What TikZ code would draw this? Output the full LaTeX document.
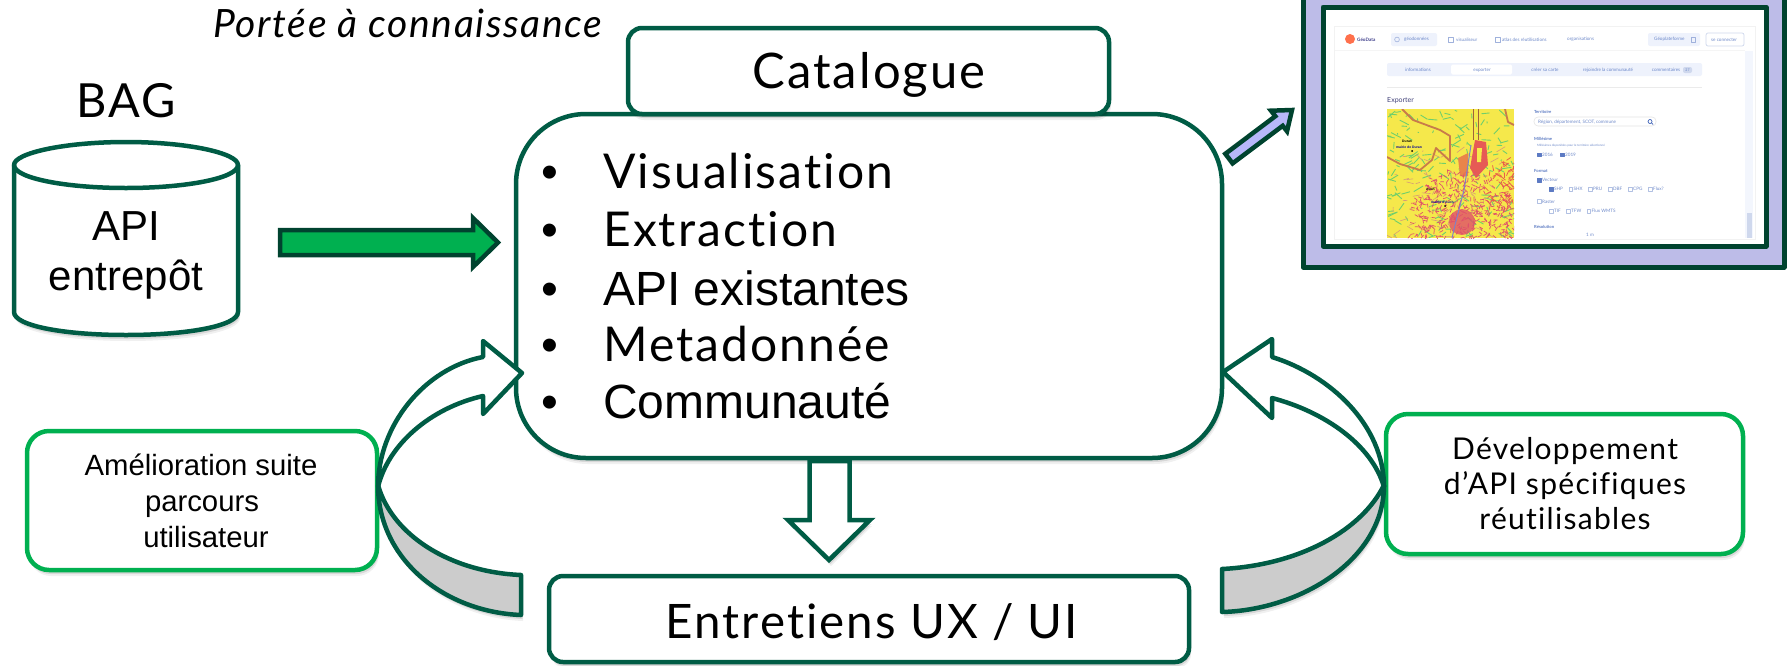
\documentclass[tikz,border=0pt]{standalone}
\usepackage{fontspec}
\setmainfont{Liberation Sans}
\newfontfamily\uifont[LetterSpace=4.3,Ligatures=NoCommon]{Lato}
\newfontfamily\shotfont{Lato}
\usetikzlibrary{shadows,calc}
\definecolor{mainstroke}{HTML}{005C45}
\definecolor{darkstroke}{HTML}{00432F}
\definecolor{brightgreen}{HTML}{00B050}
\definecolor{lilac}{HTML}{BDBCE8}
\definecolor{brightlilac}{HTML}{B8B8FA}
\definecolor{bandgrey}{HTML}{CCCCCC}
\definecolor{paleblue}{HTML}{EEF2FC}
\definecolor{shotblue}{HTML}{3F63B8}
\definecolor{mapyellow}{HTML}{F5E84B}
\definecolor{mapgreen}{HTML}{6FCF6B}
\definecolor{mapred}{HTML}{E0506A}
\definecolor{mapbrown}{HTML}{C97B4A}
\tikzset{
  softshadow/.style={
    general shadow={shadow xshift=1pt,shadow yshift=-2pt,fill=black,opacity=.12},
    general shadow={shadow xshift=1.5pt,shadow yshift=-4pt,fill=black,opacity=.10},
    general shadow={shadow xshift=2pt,shadow yshift=-6pt,fill=black,opacity=.06}},
  roundbox/.style={draw=mainstroke,line width=4.5pt,fill=white,rounded corners=#1,inner sep=0pt,softshadow},
  callout/.style={draw=brightgreen,line width=4.5pt,fill=white,rounded corners=22pt,inner sep=0pt,softshadow},
  txt/.style={anchor=base,inner sep=0pt},
  stxt/.style={font=\shotfont\fontsize{4.6pt}{5pt}\selectfont,text=shotblue,inner sep=0pt,anchor=west,opacity=.75},
  sbold/.style={font=\shotfont\bfseries\fontsize{4.2pt}{5pt}\selectfont,text=shotblue,inner sep=0pt,anchor=west,opacity=.85},
  sbox/.style={draw=shotblue!40,line width=.6pt,fill=white,minimum width=3.6pt,minimum height=3.6pt,inner sep=0pt,anchor=west},
  schk/.style={fill=shotblue!85,draw=shotblue!85,minimum width=3.6pt,minimum height=3.6pt,inner sep=0pt,anchor=west},
  mapname/.style={font=\bfseries\fontsize{3.4pt}{4pt}\selectfont,inner sep=0pt,anchor=west},
}
\begin{document}
\begin{tikzpicture}[x=1pt,y=-1pt,line join=round]
\useasboundingbox (0,0) rectangle (1787,665);
% Portee
\node[anchor=base west,inner sep=0pt,font=\uifont\itshape\fontsize{39pt}{40pt}\selectfont] (portee) at (213,37) {Portée à connaissance};
\node[txt,font=\uifont\fontsize{47pt}{50pt}\selectfont] (bag) at (126,117) {BAG};
% cylinder
\path[draw=mainstroke,line width=4.5pt,fill=white,softshadow] (14,165) -- (14,312) .. controls (14,326) and (65,335) .. (126,335) .. controls (187,335) and (238,326) .. (238,312) -- (238,165) .. controls (238,153) and (187,142) .. (126,142) .. controls (65,142) and (14,153) .. (14,165) -- cycle;
\draw[mainstroke,line width=4.5pt] (14,165) .. controls (14,178) and (65,188) .. (126,188) .. controls (187,188) and (238,178) .. (238,165);
\node[txt,font=\fontsize{42pt}{48pt}\selectfont] (api) at (126,240) {API};
\node[txt,font=\fontsize{42pt}{48pt}\selectfont] (entrepot) at (126,290) {entrepôt};
% green arrow
\path[draw=darkstroke,line width=4.5pt,fill=brightgreen,line join=miter] (280,230) -- (473,230) -- (473,218) -- (498,242.5) -- (473,267) -- (473,255) -- (280,255) -- cycle;
% main box
\node[roundbox=70pt,minimum width=706pt,minimum height=344pt] (main) at (869,286) {};
\foreach \yy/\txtval/\fnt in {188/Visualisation/\uifont,246/Extraction/\uifont,305/API existantes/\rmfamily,361/Metadonnée/\uifont,418/Communauté/\rmfamily}{
  \node[txt,font=\rmfamily\fontsize{48pt}{50pt}\selectfont] at (550,\yy) {•};
  \node[anchor=base west,inner sep=0pt,font=\fnt\fontsize{48pt}{50pt}\selectfont] at (603,\yy) {\txtval};
}
% catalogue
\node[roundbox=14pt,minimum width=481pt,minimum height=86pt] (catalogue) at (868.5,71) {};
\node[txt,font=\uifont\fontsize{49pt}{50pt}\selectfont] (cataloguetext) at (869,88) {Catalogue};
% down arrow
\path[draw=mainstroke,line width=4.5pt,fill=white,line join=miter,softshadow] (809.5,461) -- (849.5,461) -- (849.5,520) -- (870,520) -- (829,560) -- (788,520) -- (809.5,520) -- cycle;
% bottom box
\node[roundbox=14pt,minimum width=640pt,minimum height=86pt] (ux) at (869,619) {};
\node[txt,font=\uifont\fontsize{47.5pt}{50pt}\selectfont] (uxtext) at (872,638) {Entretiens UX / UI};
% callouts
\node[callout,minimum width=350pt,minimum height=139pt] (left) at (202,500.5) {};
\node[txt,font=\fontsize{29.3pt}{30pt}\selectfont] at (201,475) {Amélioration suite};
\node[txt,font=\fontsize{29.3pt}{30pt}\selectfont] at (202,511) {parcours};
\node[txt,font=\fontsize{29.3pt}{30pt}\selectfont] at (206,547) {utilisateur};
\node[callout,minimum width=357pt,minimum height=140pt] (right) at (1564.5,484) {};
\node[txt,font=\uifont\fontsize{30pt}{30pt}\selectfont] at (1565,459) {Développement};
\node[txt,font=\uifont\fontsize{30pt}{30pt}\selectfont] at (1565,494) {d’API spécifiques};
\node[txt,font=\uifont\fontsize{30pt}{30pt}\selectfont] at (1565,529) {réutilisables};
% curved arrow left
\path[draw=mainstroke,line width=4.5pt,fill=bandgrey,softshadow] (378,485) .. controls (378,560) and (445,612) .. (521,615) -- (521,575) .. controls (450,572) and (392,535) .. (378,485) -- cycle;
\path[draw=mainstroke,line width=4.5pt,fill=white] (378,487) .. controls (378,425) and (425,368) .. (483,357) -- (483,341) -- (522,373) -- (483,414) -- (483,396) .. controls (430,408) and (388,445) .. (378,487) -- cycle;
% curved arrow right
\path[draw=mainstroke,line width=4.5pt,fill=bandgrey,softshadow] (1384,485) .. controls (1384,560) and (1300,610) .. (1222,612) -- (1222,569) .. controls (1300,565) and (1362,530) .. (1384,485) -- cycle;
\path[draw=mainstroke,line width=4.5pt,fill=white] (1384,487) .. controls (1384,425) and (1330,375) .. (1272,357) -- (1272,339) -- (1223,372) -- (1272,418) -- (1272,398) .. controls (1325,412) and (1372,445) .. (1384,487) -- cycle;
% purple arrow
\path[draw=darkstroke,line width=4.5pt,fill=brightlilac,line join=miter] (1225.3,153.8) -- (1275.3,116.2) -- (1271,110.7) -- (1292,110) -- (1287,131.3) -- (1282.7,125.8) -- (1232.6,163.4) -- cycle;
% screenshot frame
\path[draw=darkstroke,line width=5pt,fill=lilac] (1303,-10) rectangle (1784,267);
\path[draw=darkstroke,line width=5pt,fill=white] (1323,7) rectangle (1766,246);
\begin{scope}
\clip (1326,9.5) rectangle (1763.5,243.5);
\fill[black!5] (1334,26) rectangle (1756,240);
\fill[white] (1335,27) rectangle (1755,238.5);
\fill[black!4] (1335,50) rectangle (1745,51);
\fill[paleblue!70!white] (1745,51) rectangle (1753,238);
\fill[shotblue!25] (1747,213) rectangle (1752,238);
\fill[red!60!orange!70] (1350,39) circle (5);
\node[stxt,font=\shotfont\bfseries\fontsize{4.6pt}{5pt}\selectfont,text=black!60!blue] at (1357,39.5) {GéoData};
\fill[paleblue,rounded corners=2pt] (1391,33) rectangle (1437,46);
\node[stxt] at (1404,39.5) {géodonnées};
\node[stxt] at (1456,39.5) {visualiseur};
\node[stxt] at (1502,39.5) {atlas des réutilisations};
\node[stxt] at (1567,39.5) {organisations};
\draw[shotblue!50,line width=.6pt] (1397,39.5) circle (2.4);
\draw[shotblue!50,line width=.6pt] (1448,37) rectangle (1453,42);
\draw[shotblue!50,line width=.6pt] (1495,37) rectangle (1500,42);
\fill[paleblue,rounded corners=2pt] (1648,33) rectangle (1700,46);
\node[stxt] at (1654,39.5) {Géoplateforme};
\draw[shotblue!50,line width=.6pt] (1691,37) rectangle (1695,42);
\draw[shotblue!25,line width=.7pt,rounded corners=2pt] (1706,33) rectangle (1744,46);
\node[stxt] at (1711,39.5) {se connecter};
\fill[paleblue,rounded corners=2pt] (1387,63) rectangle (1702,76);
\fill[white,rounded corners=1.5pt] (1451,64.5) rectangle (1512,74.5);
\node[stxt,anchor=center] at (1418,70) {informations};
\node[stxt,anchor=center] at (1482,70) {exporter};
\node[stxt,anchor=center] at (1545,70) {créer sa carte};
\node[stxt,anchor=center] at (1608,70) {rejoindre la communauté};
\node[stxt,anchor=center] at (1666,70) {commentaires};
\fill[shotblue!25,rounded corners=2pt] (1683,67) rectangle (1692,73);
\node[stxt,anchor=center,font=\shotfont\fontsize{3.5pt}{4pt}\selectfont] at (1687.5,70) {27};
\fill[black!8] (1387,87) rectangle (1702,87.6);
\node[stxt,text=black!70!blue,font=\shotfont\fontsize{7pt}{8pt}\selectfont] at (1387,100.5) {Exporter};
% form
\node[sbold] at (1534,112) {Territoire};
\draw[black!10,line width=.6pt,rounded corners=4pt] (1534,117) rectangle (1656,126);
\node[stxt] at (1538,122) {Région, département, SCOT, commune};
\draw[shotblue,line width=.7pt] (1650,121.5) circle (2) (1651.5,123) -- (1653,124.5);
\node[sbold] at (1534,139) {Millésime};
\node[stxt,font=\shotfont\fontsize{3pt}{4pt}\selectfont] at (1537,146) {Millésimes disponibles pour le territoire sélectionné};
\node[schk] at (1537,154.5) {}; \node[stxt] at (1542,154.5) {2016};
\node[schk] at (1560,154.5) {}; \node[stxt] at (1565,154.5) {2019};
\node[sbold] at (1534,171) {Format};
\node[schk] at (1537,180) {}; \node[stxt] at (1542,180) {Vecteur};
\node[schk] at (1549,189) {}; \node[stxt] at (1554,189) {SHP};
\foreach \xx/\tt in {1568.5/SHX,1588/PRU,1608/DBF,1628/CPG,1648/Flux?}{\node[sbox] at (\xx,189) {}; \node[stxt] at (\xx+5,189) {\tt};}
\node[sbox] at (1537,201.5) {}; \node[stxt] at (1542,201.5) {Raster};
\foreach \xx/\tt in {1549/TIF,1566/TFW,1586.5/Flux WMTS}{\node[sbox] at (\xx,211) {}; \node[stxt] at (\xx+5,211) {\tt};}
\node[sbold] at (1534,227) {Résolution};
\node[stxt] at (1586,235) {1 m};
% map
\begin{scope}
\clip (1387,109) rectangle (1514,238);
\fill[mapyellow] (1387,109) rectangle (1514,238);
\pgfmathsetseed{42}
\foreach \i in {1,...,170}{
  \pgfmathsetmacro{\ax}{1387+rnd*127}\pgfmathsetmacro{\ay}{109+rnd*129}
  \pgfmathsetmacro{\bx}{\ax+(rnd-.5)*20}\pgfmathsetmacro{\by}{\ay+(rnd-.5)*14}
  \draw[mapgreen,line width=.9pt] (\ax,\ay) -- (\bx,\by);
}
\foreach \i in {1,...,70}{
  \pgfmathsetmacro{\ax}{1390+rnd*120}\pgfmathsetmacro{\ay}{150+rnd*88}
  \pgfmathsetmacro{\bx}{\ax+(rnd-.5)*18}\pgfmathsetmacro{\by}{\ay+(rnd-.5)*12}
  \draw[mapbrown!75,line width=.6pt] (\ax,\ay) -- (\bx,\by);
}
\fill[mapred!80!orange] (1475,140) -- (1486,142) -- (1488,165) -- (1476,178) -- (1470,168) -- cycle;
\fill[mapred!70!yellow] (1458,158) -- (1468,153) -- (1468,176) -- (1460,176) -- cycle;
\fill[mapyellow] (1477,148) -- (1482,148) -- (1481,162) -- (1477,162) -- cycle;
\foreach \i in {1,...,70}{
  \pgfmathsetmacro{\ax}{1488+rnd*26}\pgfmathsetmacro{\ay}{160+rnd*50}
  \pgfmathsetmacro{\bx}{\ax+(rnd-.5)*12}\pgfmathsetmacro{\by}{\ay+(rnd-.5)*12}
  \draw[mapred!70!orange,line width=.8pt] (\ax,\ay) -- (\bx,\by);
}
\foreach \i in {1,...,600}{
  \pgfmathsetmacro{\rr}{sqrt(rnd)*54}\pgfmathsetmacro{\aa}{rnd*360}
  \pgfmathsetmacro{\ax}{1462+\rr*cos(\aa)}\pgfmathsetmacro{\ay}{224+\rr*sin(\aa)}
  \pgfmathsetmacro{\ab}{rnd*360}
  \draw[mapred,line width=.7pt] (\ax,\ay) -- ++(\ab:4);
}
\fill[mapred,opacity=.8] (1462,222) circle (13);
\draw[mapbrown,line width=1.8pt] (1402,109) -- (1413,120) -- (1440,130) -- (1450,136) -- (1450,161) -- (1436,148) -- (1432,160) -- (1420,170) -- (1400,164) -- (1387,157);
\draw[mapbrown,line width=1.8pt] (1505,109) -- (1508,122) -- (1514,125);
\draw[black!45!blue!50,line width=1pt] (1471,145) -- (1464,190) -- (1455,225) -- (1452,238);
\draw[mapbrown!80!black,line width=1pt] (1473,109) -- (1473,140) (1478,109) -- (1478,140);
\node[mapname,text=black] at (1402,141) {Duran};
\node[mapname,text=blue!60!black] at (1396,147) {mairie de Duran};
\fill[black] (1412,151) circle (1);
\node[mapname,text=black] at (1426,189) {Auch};
\node[mapname,text=blue!60!black] at (1431,202) {mairie d'Auch};
\fill[black] (1445,206) circle (1);
\end{scope}
\end{scope}
\end{tikzpicture}
\end{document}
